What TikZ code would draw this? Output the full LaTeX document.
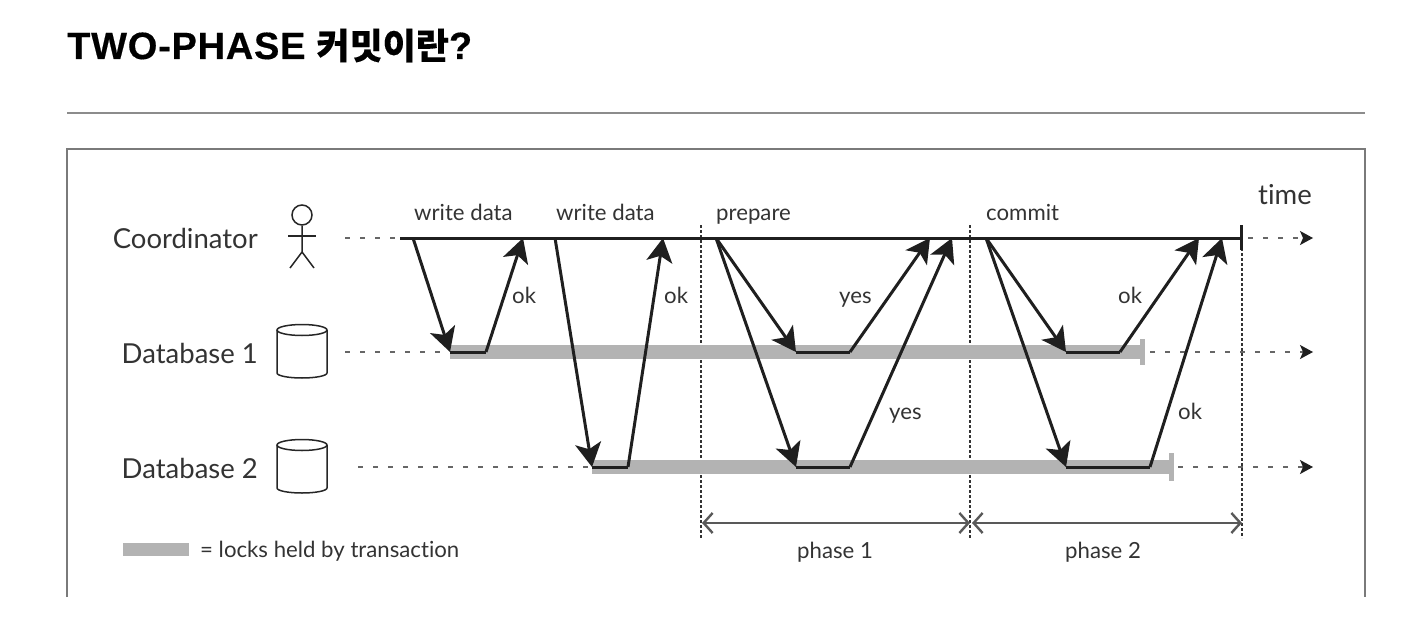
\documentclass[tikz,border=0pt]{standalone}
\usepackage{fontspec}
\setmainfont[Ligatures=CommonOff]{Lato}
\newfontfamily\titlefont[LetterSpace=2,BoldFeatures={FakeBold=0.4}]{Liberation Sans}
\newfontfamily\cjkfont[BoldFeatures={FakeBold=0.3}]{Noto Sans CJK KR}
\usetikzlibrary{arrows.meta}
\definecolor{inkc}{HTML}{333333}
\definecolor{lockc}{HTML}{B3B3B3}
\definecolor{framec}{HTML}{7A7A7A}
\tikzset{
	msg/.style={draw=black!88,line width=3pt,-{Stealth[length=24pt,width=26pt,inset=6pt]}},
	flatline/.style={draw=black!88,line width=3pt},
	lockbar/.style={draw=lockc,line width=14pt},
	lockend/.style={draw=lockc,line width=5pt},
	life/.style={draw=black!60,line width=1.4pt,dash pattern=on 5pt off 10pt,-{Stealth[black!88,length=13pt,width=14pt,inset=3pt]}},
	lifein/.style={draw=black!60,line width=1.4pt,dash pattern=on 5pt off 10pt},
	divide/.style={draw=black!80,line width=1.3pt,dash pattern=on 2.5pt off 2.5pt},
	phasespan/.style={draw=black!65,line width=2.4pt,{Straight Barb[length=9pt,width=20pt]}-{Straight Barb[length=9pt,width=20pt]}},
	rolename/.style={anchor=base east,inner sep=0pt,text=inkc,font=\fontsize{27.5}{28}\selectfont},
	smalltext/.style={anchor=base west,inner sep=0pt,text=inkc,font=\fontsize{22.2}{24}\selectfont},
	figline/.style={draw=black!85,line width=1.5pt},
}
\begin{document}
\begin{tikzpicture}[x=1pt,y=-1pt]
		\useasboundingbox (0,0) rectangle (1410,618);
		\node[anchor=base west,inner sep=0pt] (title) at (67,59) {\fontsize{38}{38}\selectfont\titlefont\bfseries TWO-PHASE\kern 11pt{\cjkfont\bfseries\fontsize{36}{38}\selectfont 커밋이란}{\titlefont\bfseries ?}};
		\coordinate (ruleL) at (67,113);
		\coordinate (ruleR) at (1365,113);
		\draw[black!45,line width=1.6pt] (ruleL) -- (ruleR);
		\coordinate (boxBL) at (67,597);
		\coordinate (boxTL) at (67,149);
		\coordinate (boxTR) at (1365,149);
		\coordinate (boxBR) at (1365,597);
		\draw[framec,line width=1.5pt] (boxBL) -- (boxTL) -- (boxTR) -- (boxBR);

		\node[rolename] (coordname) at (258,248) {Coordinator};
		\node[rolename] (db1name) at (258,363) {Database 1};
		\node[rolename] (db2name) at (258,478) {Database 2};
		\foreach \y in {352,467} {
			\draw[figline,fill=white] (277,\y-22) -- (277,\y+21) arc[start angle=180,end angle=0,x radius=25,y radius=5] -- (327,\y-22);
			\draw[figline] (302,\y-22) ellipse[x radius=25,y radius=5.5];
		}

		\node[figline,circle,minimum size=20pt,inner sep=0pt] (head) at (302,215) {};
		\coordinate (hip) at (302,252);
		\coordinate (armL) at (288,236);
		\coordinate (armR) at (316,236);
		\coordinate (legL) at (290,268);
		\coordinate (legR) at (314,268);
		\draw[figline] (head) -- (hip) -- (legL);
		\draw[figline] (hip) -- (legR);
		\draw[figline] (armL) -- (armR);

		\foreach \n/\x in {a/413,b/523,c/555,d/663,e/716,f/930,g/952,h/986,i/1199,j/1222} {
			\coordinate (top\n) at (\x,238);
		}
		\foreach \n/\x in {a/450,b/486,c/796,d/850,e/1066,f/1120} {
			\coordinate (one\n) at (\x,352);
		}
		\foreach \n/\x in {a/592,b/628,c/796,d/850,e/1066,f/1150} {
			\coordinate (two\n) at (\x,467);
		}

		\coordinate (coordin) at (345,238);
		\coordinate (coordstart) at (400,238);
		\coordinate (coordend) at (1241,238);
		\coordinate (coordout) at (1248,238);
		\coordinate (coordtip) at (1313,238);
		\coordinate (onein) at (345,352);
		\coordinate (onestop) at (1142,352);
		\coordinate (oneout) at (1150,352);
		\coordinate (onetip) at (1313,352);
		\coordinate (twoin) at (358,467);
		\coordinate (twostop) at (1171,467);
		\coordinate (twoout) at (1178,467);
		\coordinate (twotip) at (1313,467);

		\draw[lifein] (coordin) -- (coordstart);
		\draw[lifein] (onein) -- (onea);
		\draw[lifein] (twoin) -- (twoa);
		\draw[life] (coordout) -- (coordtip);
		\draw[life] (oneout) -- (onetip);
		\draw[life] (twoout) -- (twotip);

		\coordinate (d1top) at (701,225);
		\coordinate (d1bot) at (701,538);
		\coordinate (d2top) at (970,225);
		\coordinate (d2bot) at (970,538);
		\coordinate (d3top) at (1242,238);
		\coordinate (d3bot) at (1242,538);
		\draw[divide] (d1top) -- (d1bot);
		\draw[divide] (d2top) -- (d2bot);
		\draw[divide] (d3top) -- (d3bot);

		\draw[lockbar] (onea) -- (onestop);
		\draw[lockbar] (twoa) -- (twostop);
		\draw[lockend] (1142,339) -- (1142,365);
		\draw[lockend] (1171,453) -- (1171,481);

		\draw[flatline] (coordstart) -- (coordend);
		\draw[flatline] (1241,225) -- (1241,250);
		\draw[flatline] (onea) -- (oneb);
		\draw[flatline] (onec) -- (oned);
		\draw[flatline] (onee) -- (onef);
		\draw[flatline] (twoa) -- (twob);
		\draw[flatline] (twoc) -- (twod);
		\draw[flatline] (twoe) -- (twof);

		\draw[msg] (topa) -- (onea);
		\draw[msg] (oneb) -- (topb);
		\draw[msg] (topc) -- (twoa);
		\draw[msg] (twob) -- (topd);
		\draw[msg] (tope) -- (onec);
		\draw[msg] (oned) -- (topf);
		\draw[msg] (tope) -- (twoc);
		\draw[msg] (twod) -- (topg);
		\draw[msg] (toph) -- (onee);
		\draw[msg] (onef) -- (topi);
		\draw[msg] (toph) -- (twoe);
		\draw[msg] (twof) -- (topj);

		\coordinate (p1a) at (702,523);
		\coordinate (p1b) at (970,523);
		\coordinate (p2a) at (972,523);
		\coordinate (p2b) at (1242,523);
		\draw[phasespan] (p1a) -- (p1b);
		\draw[phasespan] (p2a) -- (p2b);

		\node[smalltext] (wd1) at (414,220) {write data};
		\node[smalltext] (wd2) at (556,220) {write data};
		\node[smalltext] (prep) at (716,220) {prepare};
		\node[smalltext] (comm) at (986,220) {commit};
		\node[anchor=base west,inner sep=0pt,text=inkc,font=\fontsize{27.5}{28}\selectfont] (time) at (1258,204) {time};
		\node[smalltext] (ok1) at (512,303) {ok};
		\node[smalltext] (ok2) at (664,303) {ok};
		\node[smalltext] (yes1) at (839,303) {yes};
		\node[smalltext] (ok3) at (1118,303) {ok};
		\node[smalltext] (yes2) at (889,419) {yes};
		\node[smalltext] (ok4) at (1178,419) {ok};
		\node[smalltext] (ph1) at (797,558) {phase 1};
		\node[smalltext] (ph2) at (1065,558) {phase 2};
		\node[smalltext] (legtext) at (200,557) {= locks held by transaction};
		\node[fill=lockc,minimum width=66pt,minimum height=13pt,inner sep=0pt,anchor=west] (legbar) at (123,549) {};
\end{tikzpicture}
\end{document}
